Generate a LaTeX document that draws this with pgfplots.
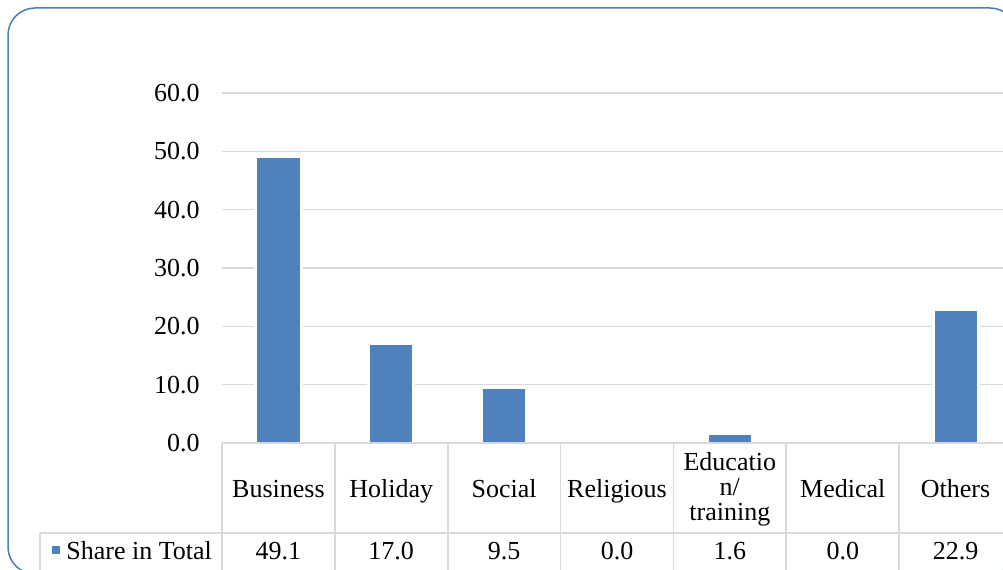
\documentclass[border=0pt]{standalone}
\usepackage{fontspec}
\setmainfont{Liberation Serif}
\usepackage{pgfplots}
\usepackage{pgfplotstable}
\pgfplotsset{compat=1.18}
\definecolor{barblue}{HTML}{4F81BD}
\definecolor{frameblue}{HTML}{4A7EBB}
\definecolor{gridgray}{HTML}{D9D9D9}
\newcommand\tf{\fontsize{13pt}{15pt}\selectfont}
\pgfplotstableread{
idx share
0 49.1
1 17.0
2 9.5
3 0.0
4 1.6
5 0.0
6 22.9
}\datatable
\begin{document}
\begin{tikzpicture}
\path[use as bounding box] (0,0) rectangle (501.5pt,284.5pt);
\clip (0,0) rectangle (501.5pt,284.5pt);
\draw[frameblue, line width=0.75pt, rounded corners=13.5pt] (4pt,-2.5pt) rectangle (508.5pt,280.5pt);
\begin{axis}[
  at={(111pt,63pt)}, anchor=south west,
  scale only axis, width=395pt, height=175pt,
  xmin=-0.5, xmax=6.5, ymin=0, ymax=60,
  ybar, bar width=0.4, bar shift=0pt,
  axis line style={draw=none},
  xtick=\empty,
  ytick={0,10,...,60},
  major tick length=0pt,
  ymajorgrids, grid style={color=gridgray, line width=0.8pt},
  /pgf/number format/assume math mode=true,
  yticklabel style={font=\tf, anchor=east, inner sep=0pt, xshift=-11pt,
    /pgf/number format/.cd, fixed, fixed zerofill, precision=1},
]
\addplot[fill=barblue, draw=white, line width=1.5pt] table[x=idx, y=share] \datatable;
\end{axis}
% data table lines
\foreach \x in {111,167.43,223.86,280.29,336.71,393.14,449.57,506}
  \draw[gridgray, line width=0.8pt] (\x pt,63pt) -- (\x pt,-5pt);
\draw[gridgray, line width=0.8pt] (111pt,63pt) -- (506pt,63pt);
\draw[gridgray, line width=0.8pt] (20pt,18pt) -- (506pt,18pt);
\draw[gridgray, line width=0.8pt] (20pt,18pt) -- (20pt,-5pt);
% header row
\foreach \x/\t in {139.2/Business,195.6/Holiday,252.1/Social,308.5/Religious,421.4/Medical,477.8/Others}
  \node[font=\tf, anchor=base, inner sep=0pt] at (\x pt,36pt) {\t};
\node[font=\tf, anchor=base, inner sep=0pt] at (364.9pt,49.5pt) {Educatio};
\node[font=\tf, anchor=base, inner sep=0pt] at (364.9pt,37pt) {n/};
\node[font=\tf, anchor=base, inner sep=0pt] at (364.9pt,24.5pt) {training};
% value row
\foreach \x/\t in {139.2/49.1,195.6/17.0,252.1/9.5,308.5/0.0,364.9/1.6,421.4/0.0,477.8/22.9}
  \node[font=\tf, anchor=base, inner sep=0pt] at (\x pt,4.75pt) {\t};
\fill[barblue] (25.75pt,7.5pt) rectangle (29.75pt,11.5pt);
\node[font=\tf, anchor=base west, inner sep=0pt] at (33pt,4.75pt) {Share in Total};
\end{tikzpicture}
\end{document}
